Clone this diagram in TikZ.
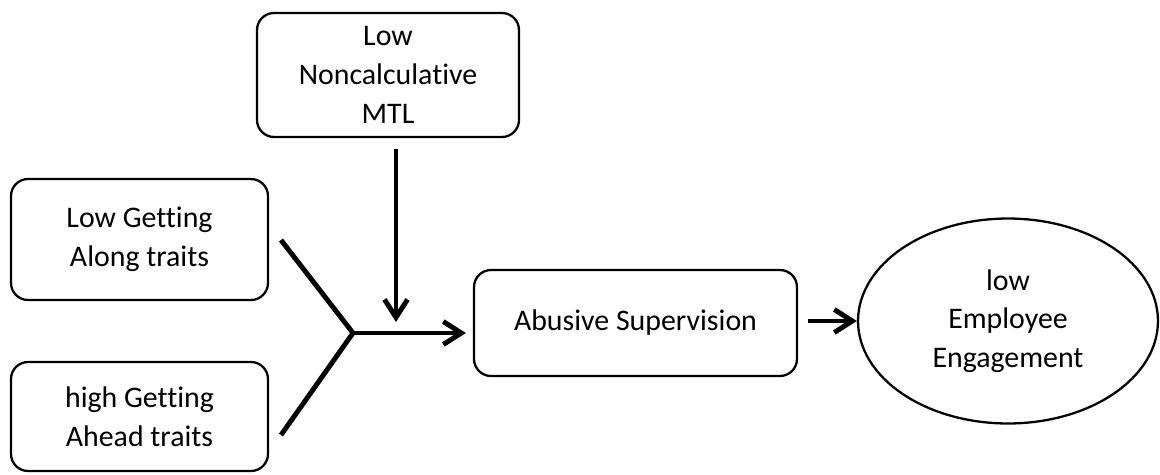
\documentclass[tikz,border=0pt]{standalone}
\usepackage{fontspec}
\setmainfont{Carlito}[Ligatures=NoCommon]
\usetikzlibrary{arrows.meta,shapes.geometric,positioning}
\tikzset{
  model/.style={
    factor/.style={draw, line width=1.3pt, rounded corners=0.34cm, align=center, inner sep=0pt},
    outcome/.style={ellipse, draw, line width=1.3pt, align=center, inner sep=0pt},
    link/.style={line width=2.8pt, -{Straight Barb[length=3.6mm,width=4.6mm]}},
    arm/.style={line width=2.8pt},
  },
}

\begin{document}
\begin{tikzpicture}
[
    model,
    x=0.02cm, y=-0.02cm,
    font=\fontsize{17}{22}\selectfont,
]
    \clip (0,0) rectangle (1160,474);
    \node[factor, minimum width=5.24cm, minimum height=2.48cm] (mtl) at (388,75) {Low\\Noncalculative\\MTL};
    \node[factor, minimum width=5.14cm, minimum height=2.42cm] (along) at (139.5,239.5) {Low Getting\\Along traits};
    \node[factor, minimum width=5.14cm, minimum height=2.18cm] (ahead) at (139.5,416.5) {high Getting\\Ahead traits};
    \node[factor, minimum width=6.46cm, minimum height=2.12cm] (abuse) at (635.5,323) {Abusive Supervision};
    \node[outcome, minimum width=6.0cm, minimum height=4.1cm] (engage) at (1008,321) {low\\Employee\\Engagement};

    % the two traits meet before the arrow
    \coordinate (armA) at (281,240);
    \coordinate (join) at (353,333);
    \coordinate (armB) at (281,435);
    \coordinate (drop) at (396,322);
    \draw[arm, line join=miter] (armA) -- (join) -- (armB);
    \draw[link, shorten >=0.14cm] (join) -- (join -| abuse.west);
    \draw[link, shorten <=0.22cm] (mtl.south -| drop) -- (drop);
    \draw[link, shorten <=0.2cm] (abuse.east |- engage.west) -- (engage.west);
\end{tikzpicture}
\end{document}
